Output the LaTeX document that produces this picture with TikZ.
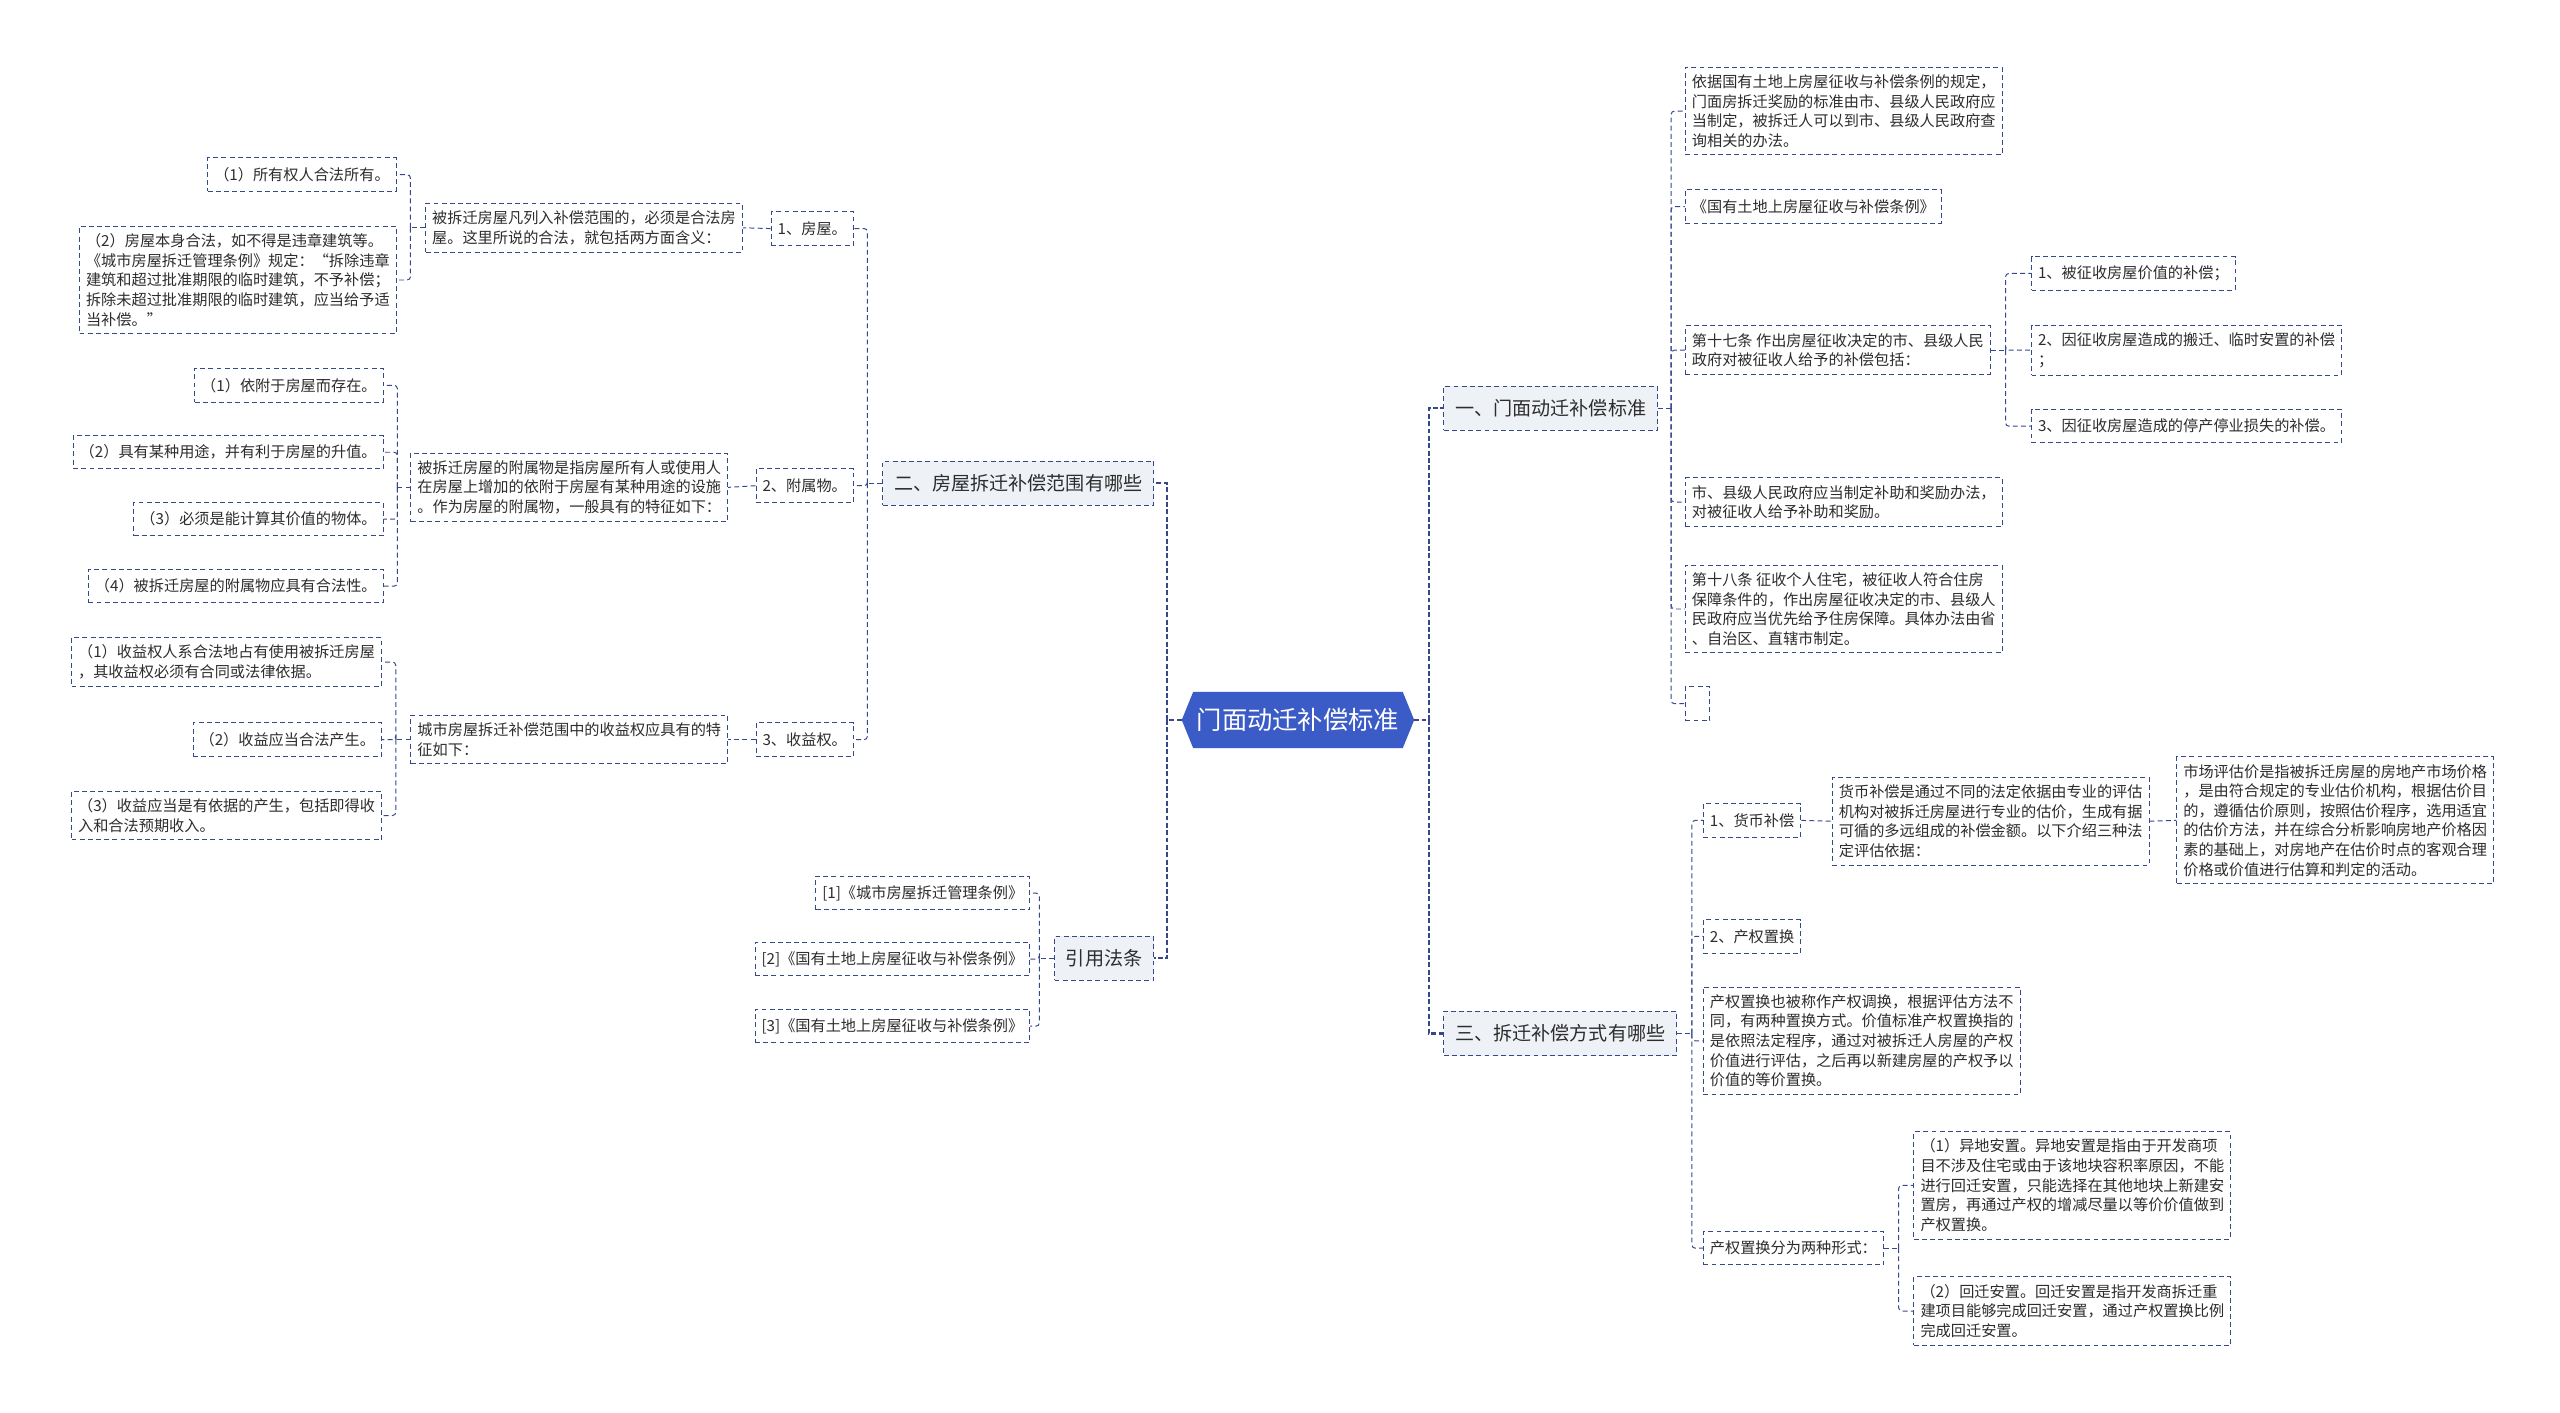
\documentclass[tikz,border=0pt]{standalone}
\usepackage{fontspec}
\setmainfont{Noto Sans CJK SC}
\usetikzlibrary{calc,positioning,backgrounds}
\definecolor{mmnavy}{RGB}{52,72,138}
\definecolor{mmblue}{RGB}{59,91,199}
\definecolor{mmgray}{RGB}{238,241,246}
\definecolor{mmtext}{RGB}{45,45,45}

\begin{document}
\begin{tikzpicture}[
    x=1pt, y=-1pt,
    root/.style={minimum width=142pt, minimum height=34pt, inner sep=0pt, text=white,
      font=\fontsize{15.5}{18}\selectfont},
    major/.style={draw=mmnavy, line width=0.6pt, dash pattern=on 3pt off 2pt, fill=mmgray, text=mmtext,
      minimum height=27pt, inner xsep=7pt, font=\fontsize{11.7}{14}\selectfont},
    leaf/.style={draw=mmnavy, line width=0.6pt, dash pattern=on 3pt off 2pt, fill=white, text=mmtext,
      align=left, minimum height=20.5pt, inner xsep=4pt, inner ysep=4.5pt, font=\fontsize{9.3}{12}\selectfont},
    trunk/.style={draw=mmnavy, line width=1.3pt, dash pattern=on 3pt off 1.5pt},
    link/.style={draw=mmnavy, line width=0.6pt, dash pattern=on 3pt off 2pt, rounded corners=2pt}
  ]
  \useasboundingbox (0,0) rectangle (1568,865);

  % root and main branches
  \node[root] (root) at (795,441) {门面动迁补偿标准};
  \begin{scope}[on background layer]
    \fill[mmblue] (root.west) -- ($(root.north west)+(7,0)$) -- ($(root.north east)+(-7,0)$)
      -- (root.east) -- ($(root.south east)+(-7,0)$) -- ($(root.south west)+(7,0)$) -- cycle;
  \end{scope}
  \node[major, anchor=west] (s1) at (884,250) {一、门面动迁补偿标准};
  \node[major, anchor=west] (s3) at (884,633) {三、拆迁补偿方式有哪些};
  \node[major, anchor=east] (s2) at (707,296) {二、房屋拆迁补偿范围有哪些};
  \node[major, anchor=east] (s4) at (707,587) {引用法条};

  % branch one
  \node[leaf, anchor=west] (a1) at (1032,68) {依据国有土地上房屋征收与补偿条例的规定，\\门面房拆迁奖励的标准由市、县级人民政府应\\当制定，被拆迁人可以到市、县级人民政府查\\询相关的办法。};
  \node[leaf, anchor=west] (a2) at (1032,126.5) {《国有土地上房屋征收与补偿条例》};
  \node[leaf, anchor=west] (a3) at (1032,214.5) {第十七条 作出房屋征收决定的市、县级人民\\政府对被征收人给予的补偿包括：};
  \node[leaf, anchor=west] (a4) at (1032,307.5) {市、县级人民政府应当制定补助和奖励办法，\\对被征收人给予补助和奖励。};
  \node[leaf, anchor=west] (a5) at (1032,373) {第十八条 征收个人住宅，被征收人符合住房\\保障条件的，作出房屋征收决定的市、县级人\\民政府应当优先给予住房保障。具体办法由省\\、自治区、直辖市制定。};
  \node[leaf, anchor=west, minimum width=15pt] (a6) at (1032,431) {};
  \node[leaf, anchor=west] (b1) at (1244,167.5) {1、被征收房屋价值的补偿；};
  \node[leaf, anchor=west] (b2) at (1244,214.5) {2、因征收房屋造成的搬迁、临时安置的补偿\\；};
  \node[leaf, anchor=west] (b3) at (1244,261) {3、因征收房屋造成的停产停业损失的补偿。};

  % branch three
  \node[leaf, anchor=west] (c1) at (1043,502.5) {1、货币补偿};
  \node[leaf, anchor=west] (c2) at (1043,573.5) {2、产权置换};
  \node[leaf, anchor=west] (c3) at (1043,637.5) {产权置换也被称作产权调换，根据评估方法不\\同，有两种置换方式。价值标准产权置换指的\\是依照法定程序，通过对被拆迁人房屋的产权\\价值进行评估，之后再以新建房屋的产权予以\\价值的等价置换。};
  \node[leaf, anchor=west] (c4) at (1043,764.5) {产权置换分为两种形式：};
  \node[leaf, anchor=west] (d1) at (1122,503) {货币补偿是通过不同的法定依据由专业的评估\\机构对被拆迁房屋进行专业的估价，生成有据\\可循的多远组成的补偿金额。以下介绍三种法\\定评估依据：};
  \node[leaf, anchor=west] (d2) at (1333,502.5) {市场评估价是指被拆迁房屋的房地产市场价格\\，是由符合规定的专业估价机构，根据估价目\\的，遵循估价原则，按照估价程序，选用适宜\\的估价方法，并在综合分析影响房地产价格因\\素的基础上，对房地产在估价时点的客观合理\\价格或价值进行估算和判定的活动。};
  \node[leaf, anchor=west] (e1) at (1172,726) {（1）异地安置。异地安置是指由于开发商项\\目不涉及住宅或由于该地块容积率原因，不能\\进行回迁安置，只能选择在其他地块上新建安\\置房，再通过产权的增减尽量以等价价值做到\\产权置换。};
  \node[leaf, anchor=west] (e2) at (1172,803) {（2）回迁安置。回迁安置是指开发商拆迁重\\建项目能够完成回迁安置，通过产权置换比例\\完成回迁安置。};

  % branch two
  \node[leaf, anchor=east] (f1) at (523,140) {1、房屋。};
  \node[leaf, anchor=east] (f2) at (523,297.5) {2、附属物。};
  \node[leaf, anchor=east] (f3) at (523,453) {3、收益权。};
  \node[leaf, anchor=east] (g1) at (455,139.5) {被拆迁房屋凡列入补偿范围的，必须是合法房\\屋。这里所说的合法，就包括两方面含义：};
  \node[leaf, anchor=east] (g2) at (446,298.5) {被拆迁房屋的附属物是指房屋所有人或使用人\\在房屋上增加的依附于房屋有某种用途的设施\\。作为房屋的附属物，一般具有的特征如下：};
  \node[leaf, anchor=east] (g3) at (446,453) {城市房屋拆迁补偿范围中的收益权应具有的特\\征如下：};
  \node[leaf, anchor=east] (h1) at (243,107) {（1）所有权人合法所有。};
  \node[leaf, anchor=east] (h2) at (243,171.5) {（2）房屋本身合法，如不得是违章建筑等。\\《城市房屋拆迁管理条例》规定：“拆除违章\\建筑和超过批准期限的临时建筑，不予补偿；\\拆除未超过批准期限的临时建筑，应当给予适\\当补偿。”};
  \node[leaf, anchor=east] (i1) at (235,236) {（1）依附于房屋而存在。};
  \node[leaf, anchor=east] (i2) at (235,277) {（2）具有某种用途，并有利于房屋的升值。};
  \node[leaf, anchor=east] (i3) at (235,318) {（3）必须是能计算其价值的物体。};
  \node[leaf, anchor=east] (i4) at (235,359) {（4）被拆迁房屋的附属物应具有合法性。};
  \node[leaf, anchor=east] (r1) at (234,405.5) {（1）收益权人系合法地占有使用被拆迁房屋\\，其收益权必须有合同或法律依据。};
  \node[leaf, anchor=east] (r2) at (234,453) {（2）收益应当合法产生。};
  \node[leaf, anchor=east] (r3) at (234,499.5) {（3）收益应当是有依据的产生，包括即得收\\入和合法预期收入。};

  % cited laws
  \node[leaf, anchor=east] (k1) at (631,547) {[1]《城市房屋拆迁管理条例》};
  \node[leaf, anchor=east] (k2) at (631,587.5) {[2]《国有土地上房屋征收与补偿条例》};
  \node[leaf, anchor=east] (k3) at (631,628.5) {[3]《国有土地上房屋征收与补偿条例》};

  % connectors from the root
  \coordinate (jr) at ($(root.east)+(9,0)$);
  \coordinate (jl) at ($(root.west)+(-9,0)$);
  \draw[trunk] (root.east) -- (jr);
  \draw[trunk] (root.west) -- (jl);
  \foreach \c in {s1,s3} \draw[trunk] (jr) |- (\c.west);
  \foreach \c in {s2,s4} \draw[trunk] (jl) |- (\c.east);

  % right side elbows
  \coordinate (js1) at ($(s1.east)+(8,0)$);
  \draw[link] (s1.east) -- (js1);
  \foreach \c in {a1,a2,a3,a4,a5,a6} \draw[link] (js1) |- (\c.west);
  \coordinate (ja3) at ($(a3.east)+(9,0)$);
  \draw[link] (a3.east) -- (ja3);
  \foreach \c in {b1,b2,b3} \draw[link] (ja3) |- (\c.west);
  \coordinate (js3) at ($(s3.east)+(9,0)$);
  \draw[link] (s3.east) -- (js3);
  \foreach \c in {c1,c2,c3,c4} \draw[link] (js3) |- (\c.west);
  \draw[link] (c1.east) -- (d1.west);
  \draw[link] (d1.east) -- (d2.west);
  \coordinate (jc4) at ($(c4.east)+(9,0)$);
  \draw[link] (c4.east) -- (jc4);
  \foreach \c in {e1,e2} \draw[link] (jc4) |- (\c.west);

  % left side elbows
  \coordinate (js2) at ($(s2.west)+(-9,0)$);
  \draw[link] (s2.west) -- (js2);
  \foreach \c in {f1,f2,f3} \draw[link] (js2) |- (\c.east);
  \draw[link] (f1.west) -- (g1.east);
  \draw[link] (f2.west) -- (g2.east);
  \draw[link] (f3.west) -- (g3.east);
  \coordinate (jg1) at ($(g1.west)+(-9,0)$);
  \draw[link] (g1.west) -- (jg1);
  \foreach \c in {h1,h2} \draw[link] (jg1) |- (\c.east);
  \coordinate (jg2) at ($(g2.west)+(-8,0)$);
  \draw[link] (g2.west) -- (jg2);
  \foreach \c in {i1,i2,i3,i4} \draw[link] (jg2) |- (\c.east);
  \coordinate (jg3) at ($(g3.west)+(-9,0)$);
  \draw[link] (g3.west) -- (jg3);
  \foreach \c in {r1,r2,r3} \draw[link] (jg3) |- (\c.east);
  \coordinate (js4) at ($(s4.west)+(-9,0)$);
  \draw[link] (s4.west) -- (js4);
  \foreach \c in {k1,k2,k3} \draw[link] (js4) |- (\c.east);
\end{tikzpicture}
\end{document}
